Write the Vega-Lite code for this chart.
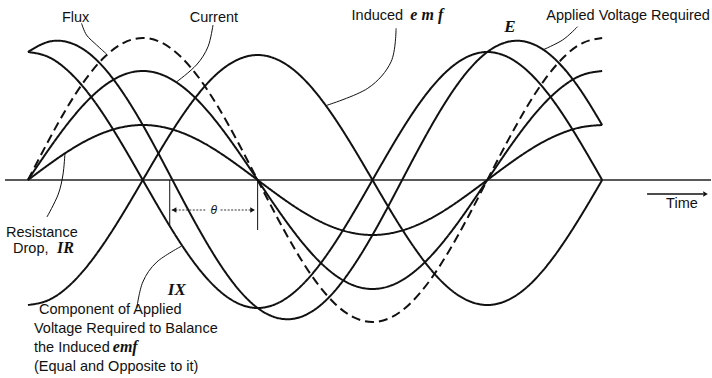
{
 "$schema": "https://vega.github.io/schema/vega-lite/v6.json",
 "width": 712, "height": 378,
 "autosize": {"type": "fit", "contains": "padding"},
 "padding": 0,
 "background": "white",
 "config": {"view": {"stroke": null}},
 "encoding": {
  "x": {"field": "t", "type": "quantitative", "scale": {"domain": [-21.91, 535.3], "nice": false, "zero": false}, "axis": null},
  "y": {"field": "v", "type": "quantitative", "scale": {"domain": [-198, 180], "nice": false, "zero": false}, "axis": null}
 },
 "layer": [
  {"data": {"values": [{"t": -18, "t2": 535.3, "v": 0}]},
   "mark": {"type": "rule", "stroke": "#222", "strokeWidth": 1.5},
   "encoding": {"x2": {"field": "t2"}}},
  {"data": {"values": [
    {"t": 0, "flux": 0, "current": 0, "ir": 0, "emf": -125, "ix": 128, "e": 128},
    {"t": 15, "flux": 36.7, "current": 28.2, "ir": 14.2, "emf": -120.7, "ix": 123.6, "e": 137.8},
    {"t": 30, "flux": 71, "current": 54.5, "ir": 27.5, "emf": -108.3, "ix": 110.8, "e": 138.3},
    {"t": 45, "flux": 100.4, "current": 77.1, "ir": 38.9, "emf": -88.4, "ix": 90.5, "e": 129.4},
    {"t": 60, "flux": 123, "current": 94.4, "ir": 47.6, "emf": -62.5, "ix": 64, "e": 111.6},
    {"t": 75, "flux": 137.2, "current": 105.3, "ir": 53.1, "emf": -32.4, "ix": 33.1, "e": 86.2},
    {"t": 90, "flux": 142, "current": 109, "ir": 55, "emf": 0, "ix": 0, "e": 55},
    {"t": 105, "flux": 137.2, "current": 105.3, "ir": 53.1, "emf": 32.4, "ix": -33.1, "e": 20},
    {"t": 120, "flux": 123, "current": 94.4, "ir": 47.6, "emf": 62.5, "ix": -64, "e": -16.4},
    {"t": 135, "flux": 100.4, "current": 77.1, "ir": 38.9, "emf": 88.4, "ix": -90.5, "e": -51.6},
    {"t": 150, "flux": 71, "current": 54.5, "ir": 27.5, "emf": 108.3, "ix": -110.8, "e": -83.3},
    {"t": 165, "flux": 36.7, "current": 28.2, "ir": 14.2, "emf": 120.7, "ix": -123.6, "e": -109.4},
    {"t": 180, "flux": 0, "current": 0, "ir": 0, "emf": 125, "ix": -128, "e": -128},
    {"t": 195, "flux": -36.7, "current": -28.2, "ir": -14.2, "emf": 120.7, "ix": -123.6, "e": -137.8},
    {"t": 210, "flux": -71, "current": -54.5, "ir": -27.5, "emf": 108.3, "ix": -110.8, "e": -138.3},
    {"t": 225, "flux": -100.4, "current": -77.1, "ir": -38.9, "emf": 88.4, "ix": -90.5, "e": -129.4},
    {"t": 240, "flux": -123, "current": -94.4, "ir": -47.6, "emf": 62.5, "ix": -64, "e": -111.6},
    {"t": 255, "flux": -137.2, "current": -105.3, "ir": -53.1, "emf": 32.4, "ix": -33.1, "e": -86.2},
    {"t": 270, "flux": -142, "current": -109, "ir": -55, "emf": 0, "ix": 0, "e": -55},
    {"t": 285, "flux": -137.2, "current": -105.3, "ir": -53.1, "emf": -32.4, "ix": 33.1, "e": -20},
    {"t": 300, "flux": -123, "current": -94.4, "ir": -47.6, "emf": -62.5, "ix": 64, "e": 16.4},
    {"t": 315, "flux": -100.4, "current": -77.1, "ir": -38.9, "emf": -88.4, "ix": 90.5, "e": 51.6},
    {"t": 330, "flux": -71, "current": -54.5, "ir": -27.5, "emf": -108.3, "ix": 110.8, "e": 83.3},
    {"t": 345, "flux": -36.7, "current": -28.2, "ir": -14.2, "emf": -120.7, "ix": 123.6, "e": 109.4},
    {"t": 360, "flux": 0, "current": 0, "ir": 0, "emf": -125, "ix": 128, "e": 128},
    {"t": 375, "flux": 36.7, "current": 28.2, "ir": 14.2, "emf": -120.7, "ix": 123.6, "e": 137.8},
    {"t": 390, "flux": 71, "current": 54.5, "ir": 27.5, "emf": -108.3, "ix": 110.8, "e": 138.3},
    {"t": 405, "flux": 100.4, "current": 77.1, "ir": 38.9, "emf": -88.4, "ix": 90.5, "e": 129.4},
    {"t": 420, "flux": 123, "current": 94.4, "ir": 47.6, "emf": -62.5, "ix": 64, "e": 111.6},
    {"t": 435, "flux": 137.2, "current": 105.3, "ir": 53.1, "emf": -32.4, "ix": 33.1, "e": 86.2},
    {"t": 450, "flux": 142, "current": 109, "ir": 55, "emf": 0, "ix": 0, "e": 55}
   ]},
   "transform": [{"fold": ["flux", "current", "ir", "emf", "ix", "e"], "as": ["series", "v"]}],
   "mark": {"type": "line", "interpolate": "natural", "stroke": "#111", "strokeWidth": 2},
   "encoding": {
    "detail": {"field": "series"},
    "strokeDash": {"field": "series", "type": "nominal", "scale": {"domain": ["flux", "current", "ir", "emf", "ix", "e"], "range": [[9, 5], [1, 0], [1, 0], [1, 0], [1, 0], [1, 0]]}, "legend": null}
   }},
  {"data": {"values": [{"t": 111.1, "v": 0, "v2": -45}, {"t": 180, "v": 0, "v2": -50}]},
   "mark": {"type": "rule", "stroke": "#111", "strokeWidth": 1},
   "encoding": {"y2": {"field": "v2"}}},
  {"data": {"values": [{"t": 112.7, "t2": 140.1, "v": -30}, {"t": 151, "t2": 177.7, "v": -30}]},
   "mark": {"type": "rule", "stroke": "#333", "strokeWidth": 1, "strokeDash": [2, 1.5]},
   "encoding": {"x2": {"field": "t2"}}},
  {"data": {"values": [{"t": 485.2, "t2": 529, "v": -14}]},
   "mark": {"type": "rule", "stroke": "#111", "strokeWidth": 1.5},
   "encoding": {"x2": {"field": "t2"}}},
  {"data": {"values": [{"t": 114.5, "v": -30, "dir": "left"}, {"t": 176, "v": -30, "dir": "right"}, {"t": 531, "v": -14, "dir": "right"}]},
   "mark": {"type": "point", "filled": true, "color": "#111", "size": 28, "opacity": 1},
   "encoding": {"shape": {"field": "dir", "type": "nominal", "scale": {"domain": ["left", "right"], "range": ["triangle-left", "triangle-right"]}, "legend": null}}},
  {"data": {"values": [
    {"id": "flux", "k": 0, "t": 42.0, "v": 156.7}, {"id": "flux", "k": 1, "t": 45.9, "v": 145}, {"id": "flux", "k": 2, "t": 53.8, "v": 135}, {"id": "flux", "k": 3, "t": 61.6, "v": 126},
    {"id": "current", "k": 0, "t": 145.0, "v": 155}, {"id": "current", "k": 1, "t": 141.1, "v": 133.3}, {"id": "current", "k": 2, "t": 132.0, "v": 115}, {"id": "current", "k": 3, "t": 116.4, "v": 98},
    {"id": "emf", "k": 0, "t": 288.5, "v": 151.7}, {"id": "emf", "k": 1, "t": 284.6, "v": 118.3}, {"id": "emf", "k": 2, "t": 266.3, "v": 91.7}, {"id": "emf", "k": 3, "t": 233.8, "v": 74.5},
    {"id": "applied", "k": 0, "t": 430.7, "v": 153.3}, {"id": "applied", "k": 1, "t": 419.0, "v": 140}, {"id": "applied", "k": 2, "t": 403.3, "v": 130},
    {"id": "ir", "k": 0, "t": 29.0, "v": 26.7}, {"id": "ir", "k": 1, "t": 27.4, "v": 5}, {"id": "ir", "k": 2, "t": 23.5, "v": -15}, {"id": "ir", "k": 3, "t": 14.9, "v": -37},
    {"id": "comp", "k": 0, "t": 85.3, "v": -128}, {"id": "comp", "k": 1, "t": 90.0, "v": -102}, {"id": "comp", "k": 2, "t": 101.0, "v": -82}, {"id": "comp", "k": 3, "t": 120.5, "v": -66}
   ]},
   "mark": {"type": "line", "interpolate": "cardinal", "stroke": "#111", "strokeWidth": 1},
   "encoding": {"detail": {"field": "id"}, "order": {"field": "k", "type": "quantitative"}}},
  {"data": {"values": [
    {"t": 26.6, "v": 158.5, "label": "Flux"},
    {"t": 126.8, "v": 158.5, "label": "Current"},
    {"t": 253.6, "v": 160, "label": "Induced"},
    {"t": 406.2, "v": 160, "label": "Applied Voltage Required"},
    {"t": -17.2, "v": -56.5, "label": "Resistance"},
    {"t": -11.7, "v": -73, "label": "Drop,"},
    {"t": 8.6, "v": -134, "label": "Component of Applied"},
    {"t": 4.7, "v": -153, "label": "Voltage Required to Balance"},
    {"t": 4.7, "v": -172, "label": "the Induced"},
    {"t": 4.7, "v": -191, "label": "(Equal and Opposite to it)"},
    {"t": 500.1, "v": -28, "label": "Time"}
   ]},
   "mark": {"type": "text", "font": "Liberation Sans", "fontSize": 14.5, "align": "left", "baseline": "alphabetic", "color": "#111"},
   "encoding": {"text": {"field": "label"}}},
  {"data": {"values": [{"t": 145.6, "v": -30, "label": "θ"}]},
   "mark": {"type": "text", "font": "Liberation Sans", "fontStyle": "italic", "fontSize": 12, "align": "center", "baseline": "middle", "color": "#111"},
   "encoding": {"text": {"field": "label"}}},
  {"data": {"values": [{"t": 373.3, "v": 148, "label": "E"}, {"t": 109.6, "v": -115, "label": "IX"}]},
   "mark": {"type": "text", "font": "Liberation Serif", "fontStyle": "italic", "fontWeight": "bold", "fontSize": 17, "align": "left", "baseline": "alphabetic", "color": "#111"},
   "encoding": {"text": {"field": "label"}}},
  {"data": {"values": [{"t": 299.7, "v": 160, "label": "e m f"}, {"t": 66.5, "v": -172, "label": "emf"}, {"t": 22.7, "v": -73, "label": "IR"}]},
   "mark": {"type": "text", "font": "Liberation Serif", "fontStyle": "italic", "fontWeight": "bold", "fontSize": 16, "align": "left", "baseline": "alphabetic", "color": "#111"},
   "encoding": {"text": {"field": "label"}}}
 ]
}
